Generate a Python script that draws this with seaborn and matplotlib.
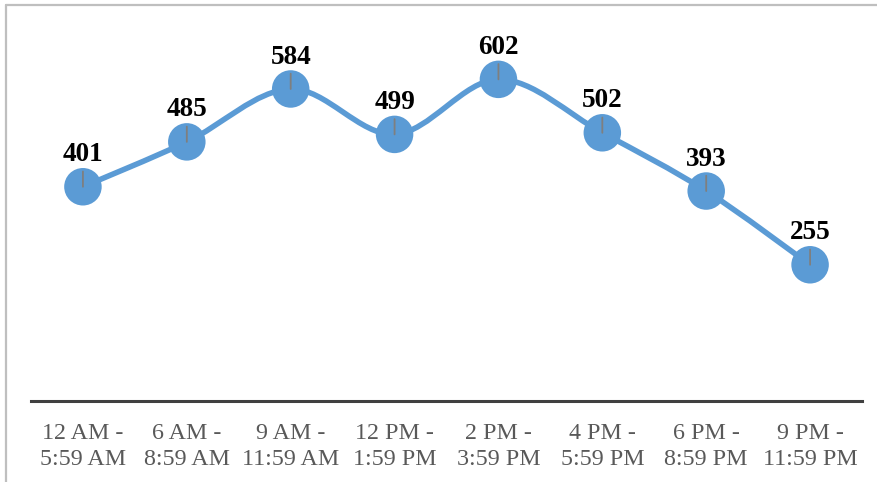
import matplotlib
matplotlib.use("Agg")
import matplotlib.pyplot as plt
import seaborn as sns
from matplotlib.path import Path
from matplotlib.patches import PathPatch
from matplotlib.lines import Line2D

sns.set_theme(style="white")
plt.rcParams['font.family'] = ['Liberation Serif', 'DejaVu Serif']

# donnees
periodes = ["12 AM -\n5:59 AM", "6 AM -\n8:59 AM", "9 AM -\n11:59 AM", "12 PM -\n1:59 PM",
            "2 PM -\n3:59 PM", "4 PM -\n5:59 PM", "6 PM -\n8:59 PM", "9 PM -\n11:59 PM"]
valeurs = [401, 485, 584, 499, 602, 502, 393, 255]

bleu = "#5B9BD5"

fig = plt.figure(figsize=(8.78, 4.82), dpi=100)
ax = fig.add_axes([0.0353, 0.168, 0.9465, 0.776])

x = list(range(len(valeurs)))

# courbe lissee (bezier type catmull-rom, comme excel)
pts = list(zip(x, valeurs))
verts = [pts[0]]
codes = [Path.MOVETO]
for i in range(len(pts) - 1):
    p0 = pts[max(i - 1, 0)]
    p1 = pts[i]
    p2 = pts[i + 1]
    p3 = pts[min(i + 2, len(pts) - 1)]
    c1 = (p1[0] + (p2[0] - p0[0]) / 6, p1[1] + (p2[1] - p0[1]) / 6)
    c2 = (p2[0] - (p3[0] - p1[0]) / 6, p2[1] - (p3[1] - p1[1]) / 6)
    verts += [c1, c2, p2]
    codes += [Path.CURVE4] * 3
ax.add_patch(PathPatch(Path(verts, codes), facecolor="none", edgecolor=bleu,
                       lw=4, capstyle="round", joinstyle="round", zorder=2))

sns.scatterplot(x=x, y=valeurs, s=27 ** 2, color=bleu, edgecolor="none", zorder=3, ax=ax)

for xi, v in zip(x, valeurs):
    # petit trait gris
    ax.annotate("", xy=(xi, v), xytext=(0, 11), textcoords="offset points",
                arrowprops=dict(arrowstyle="-", color="#7F7F7F", lw=1.3, shrinkA=0, shrinkB=0),
                zorder=4)
    ax.annotate(str(v), xy=(xi, v), xytext=(0, 23), textcoords="offset points",
                ha="center", va="center", fontsize=19.5, fontweight="bold", color="black")

ax.set_xlim(-0.5, 7.5)
ax.set_ylim(0, 700)
ax.set_xticks(x)
ax.set_xticklabels(periodes, fontsize=17.3, color="#595959", linespacing=1.3)
ax.set_yticks([])
ax.tick_params(axis="x", length=0, pad=16)
for s in ["top", "right", "left"]:
    ax.spines[s].set_visible(False)
ax.spines["bottom"].set_color("#404040")
ax.spines["bottom"].set_linewidth(2.2)
ax.set_xlabel("")
ax.set_ylabel("")

# bordure grise (haut + gauche)
fig.add_artist(Line2D([6.5 / 878, 1], [1 - 4.5 / 482] * 2, color="#BFBFBF", lw=1.6, transform=fig.transFigure))
fig.add_artist(Line2D([6.5 / 878] * 2, [0, 1 - 4.5 / 482], color="#BFBFBF", lw=1.6, transform=fig.transFigure))

fig.savefig("out.png", dpi=100, facecolor="white")
